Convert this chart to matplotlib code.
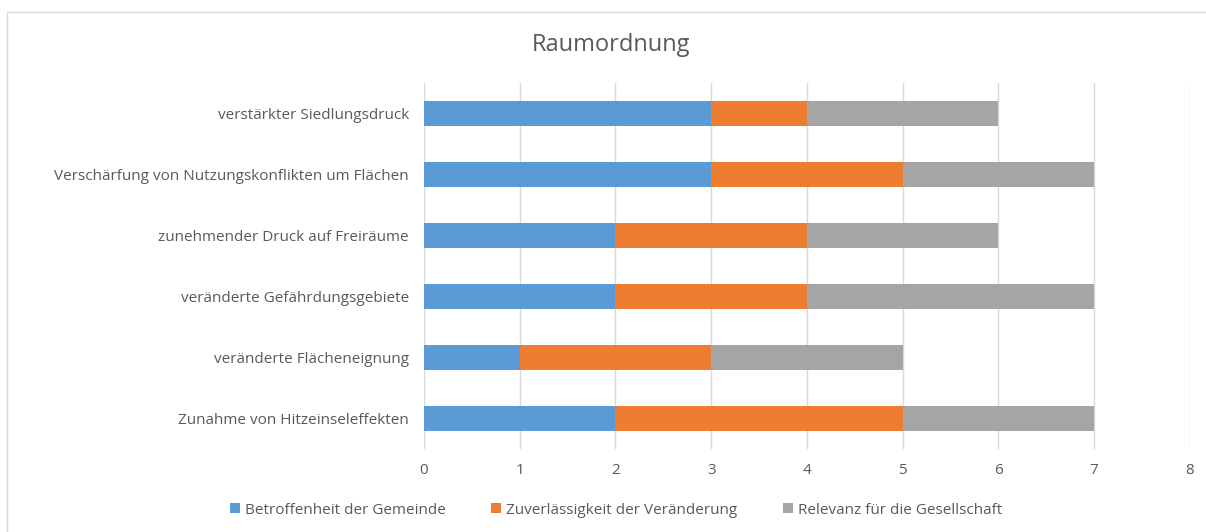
import numpy as np
from matplotlib import pyplot as plt
from matplotlib.patches import Rectangle

categories = ['verstärkter Siedlungsdruck',
              'Verschärfung von Nutzungskonflikten um Flächen',
              'zunehmender Druck auf Freiräume',
              'veränderte Gefährdungsgebiete',
              'veränderte Flächeneignung',
              'Zunahme von Hitzeinseleffekten']
betroffenheit = [3, 3, 2, 2, 1, 2]
zuverlaessigkeit = [1, 2, 2, 2, 2, 3]
relevanz = [2, 2, 2, 3, 2, 2]
series_names = ['Betroffenheit der Gemeinde',
                'Zuverlässigkeit der Veränderung',
                'Relevanz für die Gesellschaft']
colors = ['#5B9BD5', '#ED7D31', '#A5A5A5']
xticks = [0, 1, 2, 3, 4, 5, 6, 7, 8]

plt.rcParams['font.family'] = ['Open Sans', 'DejaVu Sans']
text_color = '#595959'

fig = plt.figure(figsize=(12.06, 5.32), dpi=100)
ax = fig.add_axes([0.3516, 0.156, 0.635, 0.688])

# chart frame
fig.patches.append(Rectangle((7 / 1206, -0.1), 1.2, 1 - 12 / 532 + 0.1,
                             transform=fig.transFigure, fill=False,
                             edgecolor='#D9D9D9', linewidth=1))

y = np.arange(len(categories))
left = np.zeros(len(categories))
for vals, name, c in zip([betroffenheit, zuverlaessigkeit, relevanz], series_names, colors):
    ax.barh(y, vals, left=left, height=0.4, color=c, label=name, zorder=3)
    left = left + np.array(vals)

ax.set_ylim(len(categories) - 0.5, -0.5)
ax.set_xlim(0, 8)
ax.set_xticks(xticks)
ax.set_yticks(y)
ax.set_yticklabels(categories)
ax.tick_params(axis='both', length=0, labelsize=11, colors=text_color)
ax.tick_params(axis='y', pad=11)
ax.tick_params(axis='x', pad=10)
ax.grid(axis='x', color='#D9D9D9', linewidth=1, zorder=0)
for s in ax.spines.values():
    s.set_visible(False)

fig.text(611 / 1206, 1 - 45 / 532, 'Raumordnung', ha='center', va='center',
         fontsize=17, color=text_color)

fig.legend(loc='center', bbox_to_anchor=(616 / 1206, 1 - 510 / 532), ncol=3,
           frameon=False, fontsize=11, labelcolor=text_color,
           handlelength=0.65, handleheight=0.65, handletextpad=0.3, columnspacing=3)

plt.savefig('out.png', dpi=100)
